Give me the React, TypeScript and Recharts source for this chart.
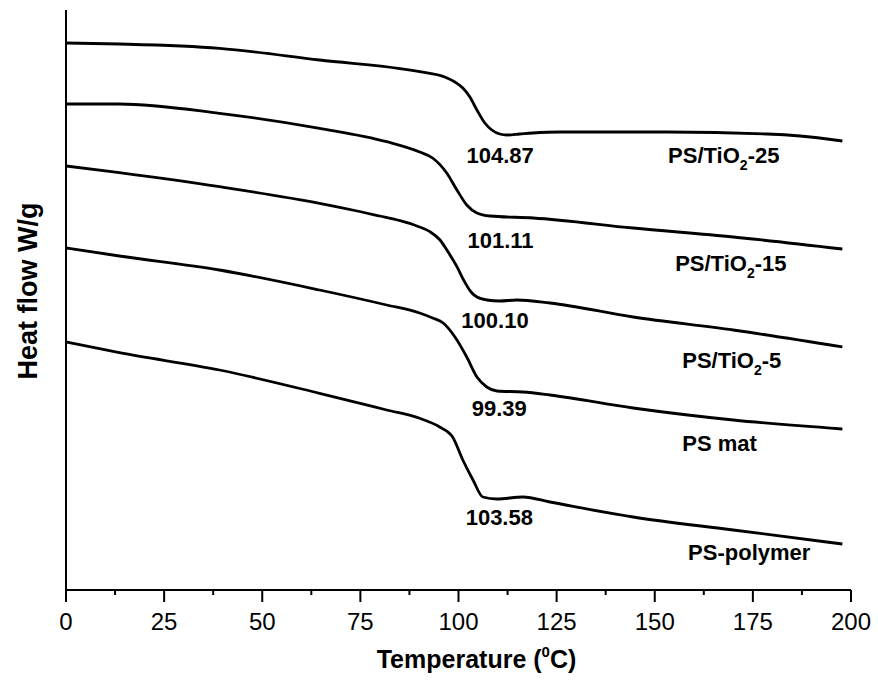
import React from "react";
import { LineChart, Line, XAxis, YAxis, ReferenceDot } from "recharts";

// Temperature (°C) and heat flow (arbitrary offset units, W/g) per sample
const tempTiO2_25 = [0, 13.6, 39.1, 64.6, 90.1, 96.5, 99.1, 101.1, 102.9, 104.7, 106.7, 108.5, 110.5, 112.3, 115.6, 118.9, 125.8, 153.1, 178.6, 187, 197.8];
const flowTiO2_25 = [54.7, 54.6, 54.17, 53.0, 51.83, 51.3, 50.8, 50.2, 49.3, 48.0, 46.7, 46.0, 45.6, 45.5, 45.6, 45.7, 45.8, 45.8, 45.6, 45.4, 44.9];

const tempTiO2_15 = [0, 13.6, 39.1, 64.6, 81.7, 90.1, 93.4, 97, 99.6, 102.1, 104.7, 108, 119, 144.5, 170, 197.8];
const flowTiO2_15 = [48.6, 48.6, 47.67, 46.17, 44.83, 43.8, 43.2, 41.7, 40.0, 38.5, 37.7, 37.4, 37.2, 36.2, 35.3, 34.1];

const tempTiO2_5 = [0, 13.6, 39.1, 64.6, 74.8, 79.9, 85.1, 89.4, 92.7, 95.3, 97.3, 99.6, 101.3, 103.2, 104.7, 107.2, 110.5, 114.9, 123.3, 144.5, 170, 197.8];
const flowTiO2_5 = [42.4, 41.73, 40.33, 38.67, 37.85, 37.4, 36.93, 36.4, 35.83, 35.0, 33.83, 32.33, 31.0, 29.8, 29.3, 29.0, 28.9, 29.0, 28.7, 27.3, 26.0, 24.3];

const tempPSmat = [0, 13.6, 39.1, 64.6, 81.7, 90.1, 93.4, 96.1, 99.1, 102.1, 104.7, 107.2, 109.8, 116.4, 123.3, 144.5, 170, 197.8];
const flowPSmat = [34.2, 33.4, 32.0, 30.0, 28.5, 27.7, 27.2, 26.7, 25.3, 23.3, 21.3, 20.3, 19.9, 19.8, 19.5, 18.2, 17.0, 16.1];

const tempPSpolymer = [0, 13.6, 39.1, 64.6, 81.7, 90.1, 95.2, 98.5, 101.1, 103.7, 106.2, 109.8, 116.4, 123.3, 144.5, 170, 197.8];
const flowPSpolymer = [24.8, 23.73, 22.0, 19.67, 18.0, 17.17, 16.3, 15.3, 13.0, 11.0, 9.3, 9.1, 9.3, 8.8, 7.3, 6.0, 4.6];

const xTicks = [0, 12.5, 25, 37.5, 50, 62.5, 75, 87.5, 100, 112.5, 125, 137.5, 150, 162.5, 175, 187.5, 200];

// Tg annotations
const tgLabels = ["104.87", "101.11", "100.10", "99.39", "103.58"];
const tgAnchorT = [110.6, 110.7, 109.3, 110.4, 110.4];
const tgAnchorV = [43.5, 35.0, 27.0, 18.2, 7.3];

// sample names: [main, subscript, suffix]
const sampleNames: [string, string, string][] = [
  ["PS/TiO", "2", "-25"],
  ["PS/TiO", "2", "-15"],
  ["PS/TiO", "2", "-5"],
  ["PS mat", "", ""],
  ["PS-polymer", "", ""],
];
const nameAnchorT = [153.4, 155.2, 157, 157, 158.5];
const nameAnchorV = [43.5, 32.7, 23.0, 14.7, 3.8];

const zip = (t: number[], v: number[]) => t.map((x, i) => ({ t: x, v: v[i] }));

const series = [
  zip(tempTiO2_25, flowTiO2_25),
  zip(tempTiO2_15, flowTiO2_15),
  zip(tempTiO2_5, flowTiO2_5),
  zip(tempPSmat, flowPSmat),
  zip(tempPSpolymer, flowPSpolymer),
];

const FONT = "'Liberation Sans', Arial, Helvetica, sans-serif";

const XTick = (props: any) => {
  const { x, y, payload } = props;
  const axisY = y - 23;
  const major = payload.value % 25 === 0;
  return (
    <g>
      <line x1={x} x2={x} y1={axisY} y2={axisY + (major ? 12 : 5)} stroke="#000" strokeWidth={2} />
      {major && (
        <text x={x} y={y} dy="0.71em" textAnchor="middle" fontSize={24} fontFamily={FONT} fill="#000">
          {payload.value}
        </text>
      )}
    </g>
  );
};

export default function App() {
  return (
    <div style={{ position: "fixed", left: 0, top: 0, background: "#fff" }}>
      <LineChart width={878} height={681} margin={{ top: 10, right: 27, bottom: 0, left: 0 }}>
        <XAxis
          dataKey="t"
          type="number"
          domain={[0, 200]}
          ticks={xTicks}
          interval={0}
          height={91}
          tickSize={12}
          tickMargin={11}
          tickLine={false}
          tick={<XTick />}
          axisLine={{ stroke: "#000", strokeWidth: 2 }}
          allowDataOverflow
          label={{
            content: (p: any) => {
              const vb = p.viewBox;
              return (
                <text
                  x={vb.x + vb.width / 2 + 18}
                  y={vb.y + 78}
                  textAnchor="middle"
                  fontSize={25}
                  fontWeight="bold"
                  fontFamily={FONT}
                  fill="#000"
                >
                  Temperature (<tspan fontSize={15} dy={-11}>0</tspan>
                  <tspan dy={11}>C)</tspan>
                </text>
              );
            },
          }}
        />
        <YAxis
          type="number"
          domain={[0, 58]}
          width={66}
          tick={false}
          tickLine={false}
          axisLine={{ stroke: "#000", strokeWidth: 2 }}
          allowDataOverflow
          label={{
            content: (p: any) => {
              const vb = p.viewBox;
              const cx = 37;
              const cy = vb.y + vb.height / 2 - 9;
              return (
                <text
                  x={cx}
                  y={cy}
                  transform={`rotate(-90 ${cx} ${cy})`}
                  textAnchor="middle"
                  fontSize={27}
                  fontWeight="bold"
                  fontFamily={FONT}
                  fill="#000"
                >
                  Heat flow W/g
                </text>
              );
            },
          }}
        />
        {series.map((d, i) => (
          <Line
            key={i}
            data={d}
            dataKey="v"
            type="monotone"
            stroke="#000"
            strokeWidth={2.8}
            dot={false}
            activeDot={false}
            isAnimationActive={false}
          />
        ))}
        {tgLabels.map((s, i) => (
          <ReferenceDot
            key={"tg" + i}
            x={tgAnchorT[i]}
            y={tgAnchorV[i]}
            r={0}
            ifOverflow="visible"
            shape={(p: any) => (
              <text
                x={p.cx}
                y={p.cy}
                dy="0.36em"
                textAnchor="middle"
                fontSize={22}
                fontWeight="bold"
                fontFamily={FONT}
                fill="#000"
              >
                {s}
              </text>
            )}
          />
        ))}
        {sampleNames.map((n, i) => (
          <ReferenceDot
            key={"nm" + i}
            x={nameAnchorT[i]}
            y={nameAnchorV[i]}
            r={0}
            ifOverflow="visible"
            shape={(p: any) => (
              <text
                x={p.cx}
                y={p.cy}
                dy="0.36em"
                textAnchor="start"
                fontSize={22}
                fontWeight="bold"
                fontFamily={FONT}
                fill="#000"
              >
                {n[0]}
                {n[1] && (
                  <tspan fontSize={14} dy={7}>
                    {n[1]}
                  </tspan>
                )}
                {n[2] && <tspan dy={-7}>{n[2]}</tspan>}
              </text>
            )}
          />
        ))}
      </LineChart>
    </div>
  );
}
